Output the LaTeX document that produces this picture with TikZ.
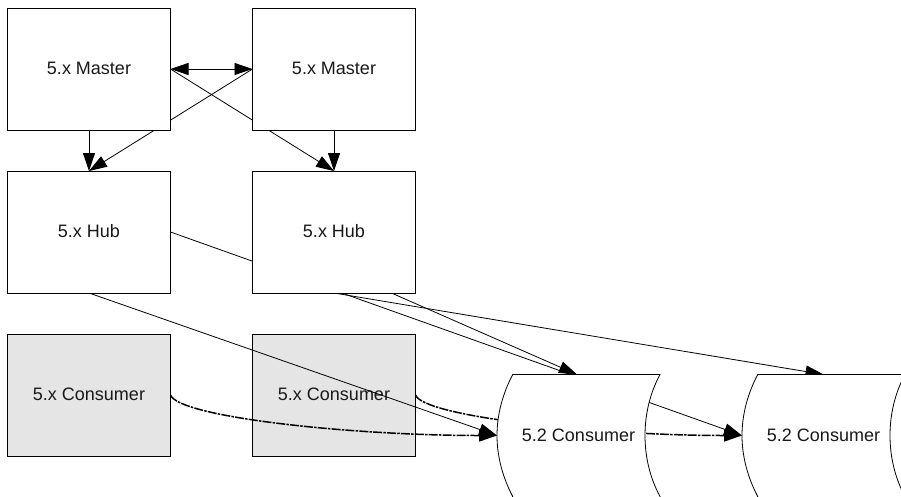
\documentclass[tikz,border=0pt]{standalone}
\usepackage{fontspec}
\setmainfont{Liberation Sans}
\usetikzlibrary{arrows.meta}
\pgfdeclarelayer{graylayer}
\pgfdeclarelayer{connlayer}
\pgfsetlayers{graylayer,connlayer,main}
\tikzset{
  box/.style={draw=black,line width=0.8pt,fill=white,minimum width=163pt,minimum height=122pt,inner sep=0pt,outer sep=0pt,text depth=2pt,font=\fontsize{18}{20}\selectfont,text=black!90},
  graybox/.style={box,fill=black!10},
  storelabel/.style={minimum width=163pt,minimum height=122pt,inner sep=0pt,outer sep=0pt,font=\fontsize{18}{20}\selectfont,text=black!90},
  storeshape/.style={draw=black,line width=0.8pt,fill=white},
  conn/.style={draw=black,line width=0.8pt},
  head/.style={-{Triangle[length=18pt,width=12pt]}},
  dheads/.style={{Triangle[length=18pt,width=12pt]}-{Triangle[length=18pt,width=12pt]}},
  dashconn/.style={draw=black,line width=1.5pt,dash pattern=on 9pt off 1.2pt on 2.5pt off 1.2pt}
}
\begin{document}
\begin{tikzpicture}[x=1pt,y=-1pt]
\clip (0,0) rectangle (901,496);
% white boxes
\node[box] (m1) at (89,69) {5.x Master};
\node[box] (m2) at (334,69) {5.x Master};
\node[box] (h1) at (89,232) {5.x Hub};
\node[box] (h2) at (334,232) {5.x Hub};
% curved stores
\draw[storeshape] (512.7,374.5) -- (660,374.5) .. controls (650,393) and (645,414) .. (645,435.5) .. controls (645,457) and (650,478) .. (660,496.5) -- (663,502) -- (510,502) -- (512.7,496.5) .. controls (503,478) and (497,457) .. (497,435.5) .. controls (497,414) and (503,393) .. (512.7,374.5) -- cycle;
\draw[storeshape] (757.7,374.5) -- (905,374.5) .. controls (895,393) and (890,414) .. (890,435.5) .. controls (890,457) and (895,478) .. (905,496.5) -- (908,502) -- (755,502) -- (757.7,496.5) .. controls (748,478) and (742,457) .. (742,435.5) .. controls (742,414) and (748,393) .. (757.7,374.5) -- cycle;
\node[storelabel] (c1) at (578.5,435.5) {5.2 Consumer};
\node[storelabel] (c2) at (823.5,435.5) {5.2 Consumer};
\begin{pgfonlayer}{graylayer}
\node[graybox] (g1) at (89,395) {5.x Consumer};
\node[graybox] (g2) at (334,395) {5.x Consumer};
\end{pgfonlayer}
\begin{pgfonlayer}{connlayer}
\coordinate (c1top) at ([xshift=-1.5pt]c1.north);
\coordinate (c2top) at (c2.north);
\draw[conn,dheads] (m1.east) -- (m2.west);
\draw[conn,head] (m1.south) -- (h1.north);
\draw[conn,head] (m2.south) -- (h2.north);
\draw[conn,head] (m2.west) -- (h1.north);
\draw[conn,head] (m1.east) -- (h2.north);
\draw[conn,head] (h1.east) -- (c2.west);
\draw[conn,head] (h1.south) -- (c1.west);
\draw[conn,head] (h2.west) -- (c1top);
\draw[conn,head] (h2.south) -- (c2top);
\draw[dashconn,head] (g1.east) .. controls +(8,22) and (350,435.5) .. (c1.west);
\draw[dashconn,head] (g2.east) .. controls +(8,22) and (600,435.5) .. (c2.west);
\end{pgfonlayer}
\end{tikzpicture}
\end{document}
